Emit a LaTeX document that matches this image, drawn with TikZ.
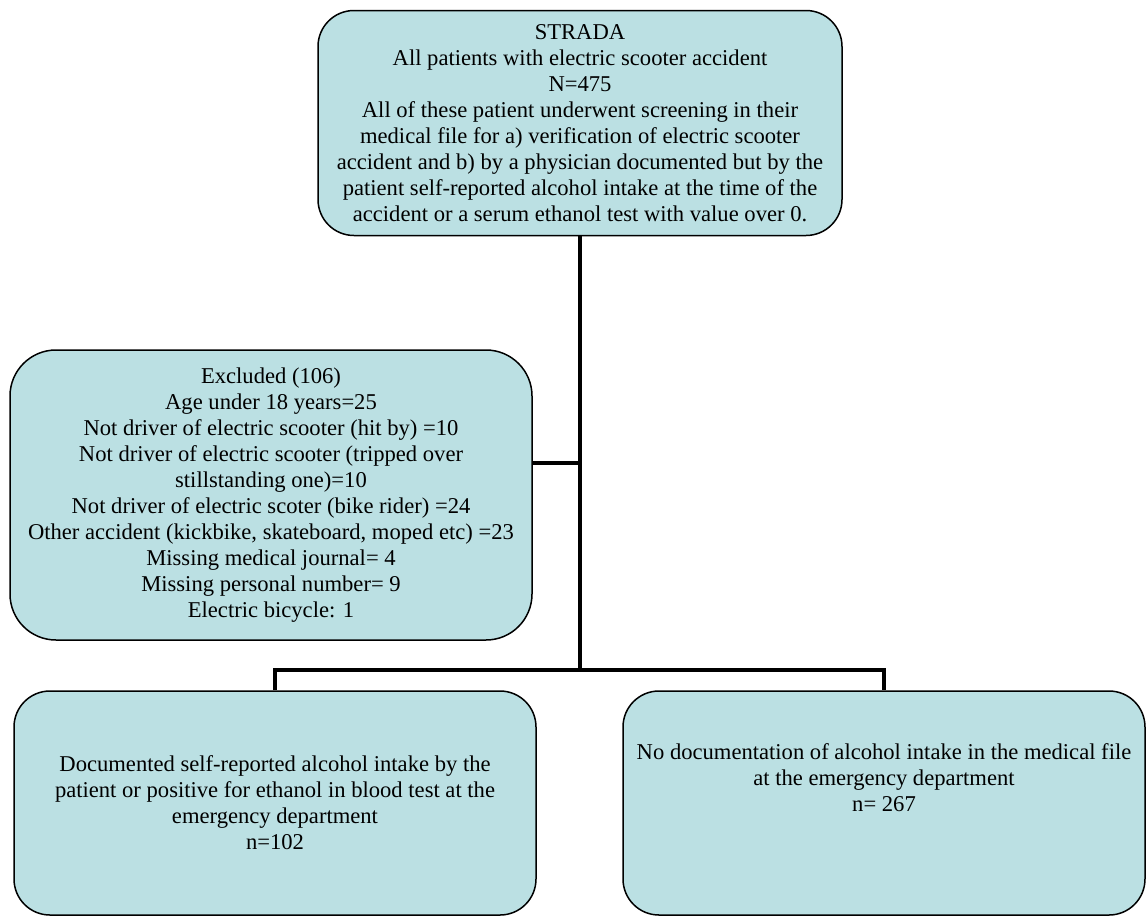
\documentclass[tikz,border=0pt]{standalone}
\usepackage{fontspec}
\setmainfont{Liberation Serif}
\usepackage{xcolor}
\usetikzlibrary{positioning,calc}
\definecolor{ink}{HTML}{000000}
\definecolor{softteal}{HTML}{BBE0E3}

\begin{document}
\begin{tikzpicture}[
  x=0.5pt, y=-0.5pt,
  font=\fontsize{11.3}{13}\selectfont,
  flowbox/.style={rounded corners=18pt, draw=ink, line width=0.75pt, fill=softteal, align=center, inner sep=4pt, minimum width=261pt, minimum height=112pt},
  link/.style={draw=ink, line width=2.2pt}
]
\useasboundingbox (0,0) rectangle (1147,917);

\node[flowbox, minimum width=262pt, minimum height=112.5pt] (strada) at (580,123) {STRADA\\All patients with electric scooter accident\\N=475\\All of these patient underwent screening in their\\medical file for a) verification of electric scooter\\accident and b) by a physician documented but by the\\patient self-reported alcohol intake at the time of the\\accident or a serum ethanol test with value over 0.};

\node[flowbox, rounded corners=23pt, minimum height=145pt] (excl) at (271,495) {Excluded (106)\\Age under 18 years=25\\Not driver of electric scooter (hit by) =10\\Not driver of electric scooter (tripped over\\stillstanding one)=10\\Not driver of electric scoter (bike rider) =24\\Other accident (kickbike, skateboard, moped etc) =23\\Missing medical journal= 4\\Missing personal number= 9\\Electric bicycle: 1};

\node[flowbox] (alc) at (275,803) {Documented self-reported alcohol intake by the\\patient or positive for ethanol in blood test at the\\emergency department\\n=102};
\node[flowbox, text depth=25pt] (noalc) at (884,803) {No documentation of alcohol intake in the medical file\\at the emergency department\\n= 267};

% trunk and branches
\coordinate (tap) at (580,463);
\coordinate (junc) at (580,670);
\draw[link] (strada.south) -- (junc);
\draw[link] (tap) -- (tap -| excl.east);
\draw[link] (alc.north) |- (junc) -| (noalc.north);

\end{tikzpicture}
\end{document}
